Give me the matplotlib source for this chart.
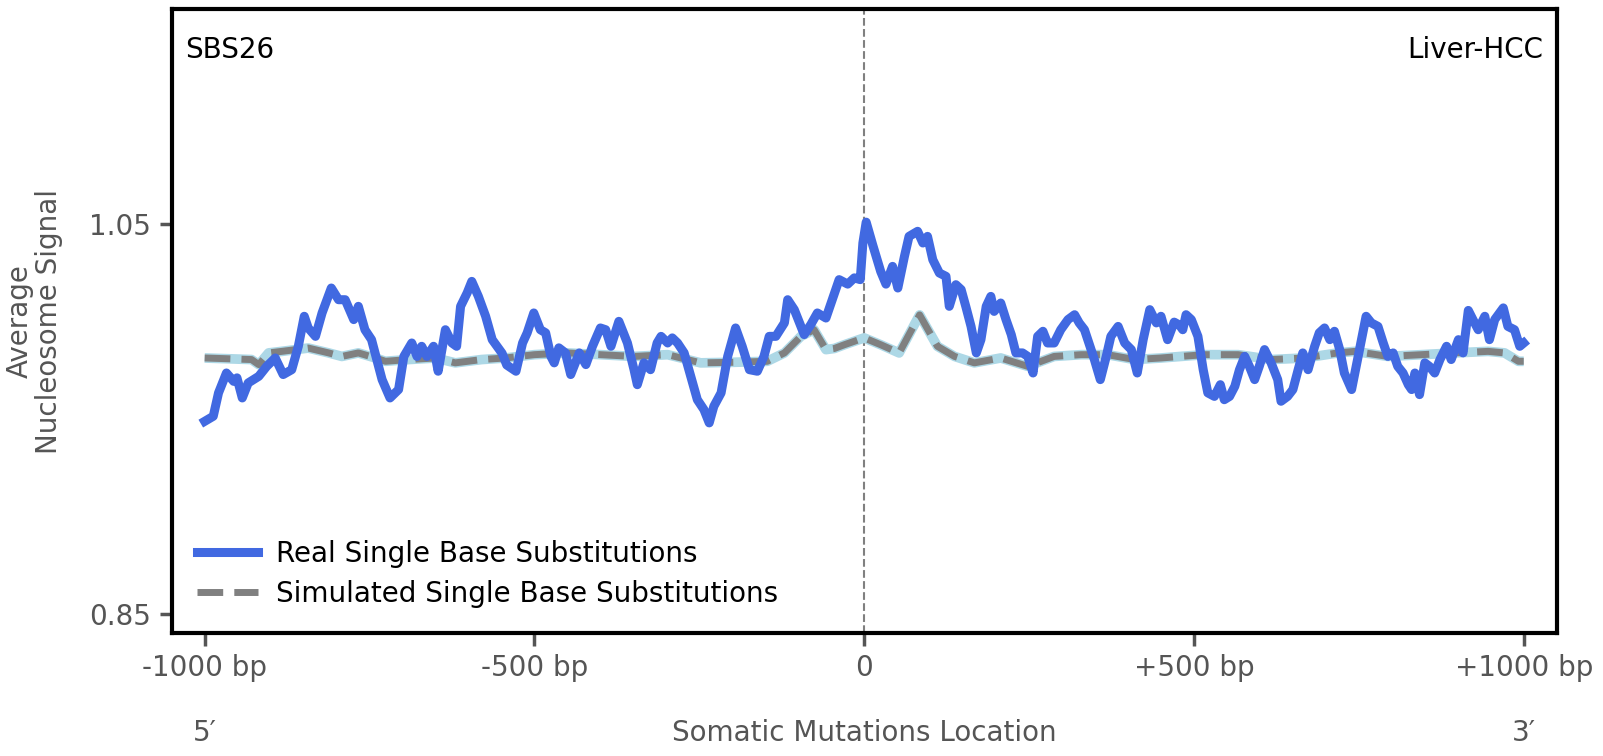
import matplotlib
matplotlib.use("Agg")
import matplotlib.pyplot as plt
import matplotlib.transforms as mtransforms

# ---------------- data ----------------
real_bp = [
    -1000, -987, -979, -967, -956, -951, -943, -934, -918, -906,
    -893, -881, -868, -858, -849, -843, -832, -822, -808, -797,
    -787, -774, -767, -757, -747, -731, -719, -706, -698, -686,
    -678, -671, -663, -653, -646, -635, -625, -618, -612, -602,
    -595, -585, -574, -564, -549, -542, -528, -518, -511, -501,
    -491, -483, -475, -470, -463, -453, -445, -432, -422, -412,
    -400, -392, -384, -372, -359, -349, -344, -334, -324, -314,
    -308, -298, -291, -283, -273, -263, -253, -243, -235, -228,
    -217, -207, -195, -185, -174, -162, -152, -144, -134, -121,
    -116, -106, -96, -91, -81, -71, -58, -45, -38, -25,
    -15, -6, -2, 3, 13, 25, 33, 43, 51, 61,
    68, 81, 89, 96, 104, 114, 124, 129, 139, 147,
    154, 162, 170, 177, 185, 192, 197, 207, 215, 223,
    230, 240, 248, 256, 263, 271, 278, 288, 298, 309,
    319, 326, 334, 339, 349, 358, 367, 374, 385, 395,
    405, 414, 423, 433, 443, 450, 460, 470, 478, 483,
    488, 496, 506, 514, 521, 531, 540, 546, 554, 562,
    569, 577, 584, 592, 599, 607, 617, 627, 632, 642,
    650, 658, 665, 673, 683, 690, 698, 706, 713, 721,
    728, 739, 746, 754, 761, 769, 779, 787, 794, 802,
    809, 817, 825, 830, 835, 842, 850, 857, 865, 873,
    883, 890, 901, 908, 916, 923, 931, 941, 948, 956,
    969, 976, 986, 994, 1000,
]
real_signal = [
    0.9486, 0.9512, 0.9632, 0.9734, 0.9691, 0.9709, 0.9606, 0.9683, 0.9717, 0.9768,
    0.9811, 0.9726, 0.9751, 0.9871, 1.0025, 0.9965, 0.9922, 1.0042, 1.0170, 1.0110,
    1.0110, 1.0008, 1.0076, 0.9956, 0.9905, 0.9700, 0.9606, 0.9649, 0.9819, 0.9888,
    0.9819, 0.9871, 0.9819, 0.9871, 0.9743, 0.9956, 0.9888, 0.9871, 1.0076, 1.0145,
    1.0204, 1.0127, 1.0025, 0.9905, 0.9835, 0.9775, 0.9743, 0.9888, 0.9940, 1.0042,
    0.9956, 0.9940, 0.9819, 0.9786, 0.9863, 0.9837, 0.9726, 0.9837, 0.9777, 0.9871,
    0.9965, 0.9956, 0.9871, 0.9999, 0.9888, 0.9751, 0.9674, 0.9786, 0.9751, 0.9888,
    0.9922, 0.9888, 0.9914, 0.9888, 0.9837, 0.9717, 0.9597, 0.9546, 0.9478, 0.9563,
    0.9632, 0.9819, 0.9965, 0.9871, 0.9751, 0.9743, 0.9819, 0.9922, 0.9922, 0.9991,
    1.0110, 1.0059, 0.9973, 0.9931, 0.9982, 1.0042, 1.0016, 1.0145, 1.0213, 1.0190,
    1.0222, 1.0213, 1.0401, 1.0508, 1.0390, 1.0255, 1.0190, 1.0281, 1.0170, 1.0332,
    1.0435, 1.0461, 1.0401, 1.0435, 1.0315, 1.0247, 1.0230, 1.0076, 1.0187, 1.0162,
    1.0076, 0.9973, 0.9837, 0.9905, 1.0076, 1.0127, 1.0050, 1.0093, 1.0008, 0.9931,
    0.9837, 0.9837, 0.9819, 0.9734, 0.9922, 0.9948, 0.9888, 0.9888, 0.9956, 1.0008,
    1.0033, 0.9991, 0.9956, 0.9905, 0.9803, 0.9700, 0.9819, 0.9922, 0.9973, 0.9888,
    0.9854, 0.9734, 0.9905, 1.0059, 0.9991, 1.0025, 0.9905, 0.9995, 0.9980, 0.9956,
    1.0033, 1.0008, 0.9922, 0.9751, 0.9632, 0.9614, 0.9674, 0.9597, 0.9614, 0.9666,
    0.9751, 0.9819, 0.9768, 0.9700, 0.9768, 0.9854, 0.9786, 0.9700, 0.9589, 0.9614,
    0.9649, 0.9751, 0.9837, 0.9751, 0.9871, 0.9940, 0.9965, 0.9905, 0.9948, 0.9854,
    0.9734, 0.9649, 0.9768, 0.9905, 1.0025, 0.9991, 0.9973, 0.9888, 0.9819, 0.9837,
    0.9768, 0.9734, 0.9674, 0.9649, 0.9734, 0.9623, 0.9786, 0.9768, 0.9734, 0.9803,
    0.9871, 0.9803, 0.9905, 0.9837, 1.0055, 1.0008, 0.9956, 1.0025, 0.9905, 1.0008,
    1.0068, 0.9973, 0.9956, 0.9871, 0.9888,
]

sim_bp = [
    -1000, -929, -918, -903, -883, -843, -812, -792, -767, -741,
    -726, -691, -650, -620, -580, -544, -500, -450, -400, -349,
    -298, -248, -197, -147, -121, -96, -76, -58, -45, -30,
    -8, 0, 25, 53, 84, 111, 137, 167, 207, 248,
    288, 329, 369, 410, 450, 480, 516, 567, 617, 668,
    718, 744, 794, 845, 895, 946, 971, 992, 1000,
]
sim_signal = [
    0.9811, 0.9803, 0.9777, 0.9837, 0.9845, 0.9862, 0.9837, 0.9819, 0.9837, 0.9811,
    0.9794, 0.9803, 0.9811, 0.9786, 0.9803, 0.9811, 0.9828, 0.9837, 0.9828, 0.9819,
    0.9828, 0.9786, 0.9789, 0.9794, 0.9837, 0.9922, 0.9956, 0.9854, 0.9860, 0.9879,
    0.9905, 0.9914, 0.9879, 0.9837, 1.0032, 0.9871, 0.9819, 0.9786, 0.9811, 0.9768,
    0.9819, 0.9828, 0.9828, 0.9803, 0.9811, 0.9819, 0.9828, 0.9828, 0.9803, 0.9811,
    0.9837, 0.9845, 0.9819, 0.9828, 0.9837, 0.9845, 0.9837, 0.9794, 0.9794,
]

xtick_pos = [-1000, -500, 0, 500, 1000]
xtick_labels = ["-1000 bp", "-500 bp", "0", "+500 bp", "+1000 bp"]
ytick_pos = [0.85, 1.05]
ytick_labels = ["0.85", "1.05"]

signature = "SBS26"
cancer_type = "Liver-HCC"

# ---------------- plot ----------------
W, H, DPI = 1603, 756, 100
FS = 20
fig = plt.figure(figsize=(W / DPI, H / DPI), dpi=DPI)
ax = fig.add_axes([171.7 / W, 1 - 633 / H, (1556.7 - 171.7) / W, (633 - 9.3) / H])

label_gray = "#555555"

ax.plot(sim_bp, sim_signal, color="lightblue", lw=7, solid_capstyle="butt", zorder=2)
ax.plot(sim_bp, sim_signal, color="gray", lw=5, linestyle="--", zorder=3,
        label="Simulated Single Base Substitutions")
ax.plot(real_bp, real_signal, color="royalblue", lw=6.5, zorder=4,
        label="Real Single Base Substitutions")
ax.axvline(0, color="gray", lw=1.5, linestyle="--", zorder=1)

ax.set_xlim(-1050, 1050)
ax.set_ylim(0.84, 1.16)
ax.set_xticks(xtick_pos)
ax.set_xticklabels(xtick_labels)
ax.set_yticks(ytick_pos)
ax.set_yticklabels(ytick_labels)
ax.tick_params(axis="both", labelsize=FS, labelcolor=label_gray, color=label_gray,
               length=9, width=2.5, pad=6)

for sp in ax.spines.values():
    sp.set_linewidth(3.0)
    sp.set_color("black")

ax.text(0.010, 0.934, signature, transform=ax.transAxes, fontsize=FS,
        color="black", ha="left", va="center")
ax.text(0.990, 0.934, cancer_type, transform=ax.transAxes, fontsize=FS,
        color="black", ha="right", va="center")

handles, labels = ax.get_legend_handles_labels()
order = [1, 0]
leg = ax.legend([handles[i] for i in order], [labels[i] for i in order],
                loc="lower left", frameon=False, fontsize=FS,
                handlelength=2.2, handletextpad=0.65, labelspacing=0.45)

blend = mtransforms.blended_transform_factory(ax.transData, ax.transAxes)
ax.text(-1000, -0.16, "5\u2032", transform=blend, fontsize=FS,
        color=label_gray, ha="center", va="center")
ax.text(1000, -0.16, "3\u2032", transform=blend, fontsize=FS,
        color=label_gray, ha="center", va="center")
ax.text(0.5, -0.16, "Somatic Mutations Location", transform=ax.transAxes,
        fontsize=FS, color=label_gray, ha="center", va="center")

fig.text(34 / W, 1 - 321 / H, "Average\nNucleosome Signal", rotation=90,
         fontsize=FS, color=label_gray, ha="center", va="center",
         multialignment="center", linespacing=1.05)

fig.savefig("out.png", dpi=DPI)
